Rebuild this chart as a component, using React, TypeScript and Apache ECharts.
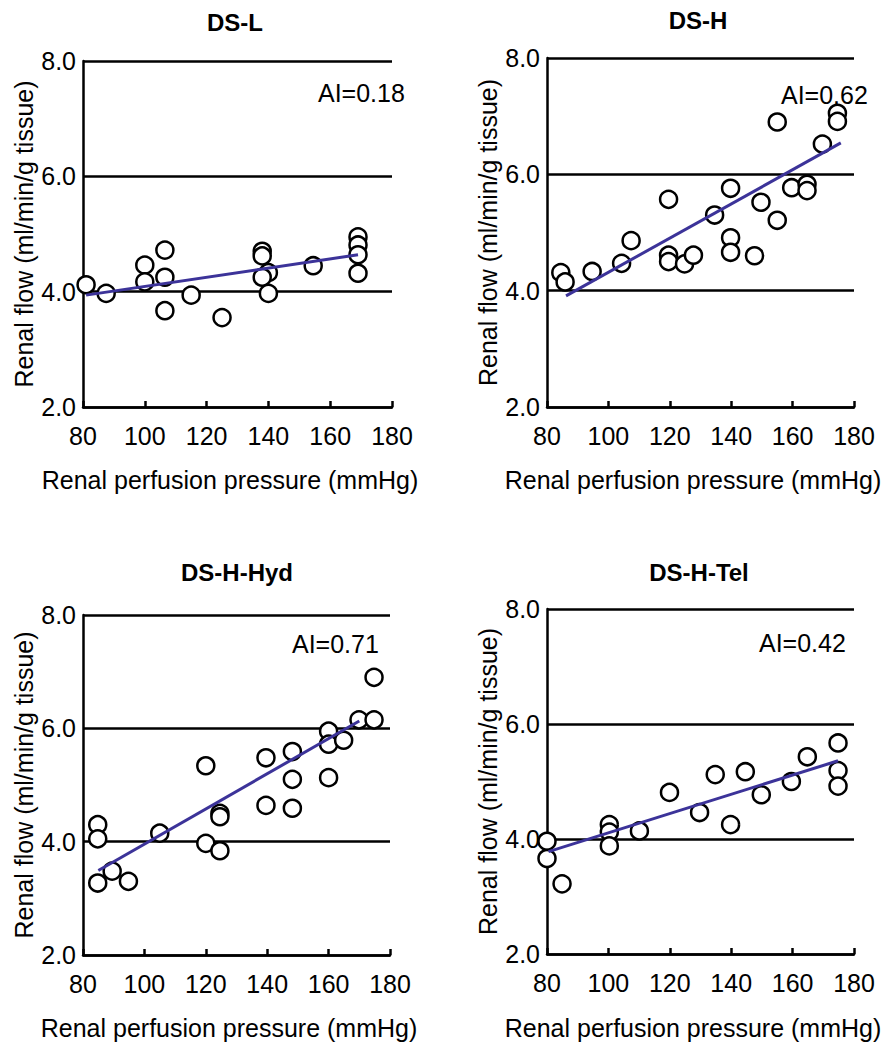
import React, { useEffect, useRef } from "react";
import * as echarts from "echarts";

// ---- Data ----
const panelTitles = ["DS-L", "DS-H", "DS-H-Hyd", "DS-H-Tel"];
const aiLabels = ["AI=0.18", "AI=0.62", "AI=0.71", "AI=0.42"];
const xAxisName = "Renal perfusion pressure (mmHg)";
const yAxisName = "Renal flow (ml/min/g tissue)";

const dsLPoints = [
  [81, 4.12], [87.5, 3.97], [100, 4.46], [100, 4.17], [106.5, 4.72], [106.5, 4.25], [106.5, 3.67],
  [115, 3.94], [125, 3.55], [138, 4.7], [138, 4.62], [140, 4.33], [138, 4.25], [140, 3.97],
  [154.5, 4.45], [169, 4.95], [169, 4.81], [169, 4.64], [169, 4.32],
];
const dsLFit = [[81, 3.94], [169, 4.64]];

const dsHPoints = [
  [84.5, 4.31], [85.9, 4.15], [94.7, 4.33], [104.3, 4.47], [107.4, 4.86], [119.6, 5.57], [119.6, 4.61],
  [119.6, 4.5], [124.8, 4.46], [127.7, 4.61], [134.6, 5.3], [139.8, 5.76], [139.8, 4.91], [139.8, 4.66],
  [147.6, 4.6], [149.7, 5.52], [155, 6.9], [155, 5.21], [159.7, 5.77], [164.7, 5.83], [164.7, 5.72],
  [169.7, 6.52], [174.6, 7.05], [174.6, 6.91],
];
const dsHFit = [[86.2, 3.91], [175.7, 6.54]];

const dsHHydPoints = [
  [84.8, 4.3], [84.8, 4.05], [84.8, 3.27], [89.5, 3.48], [94.8, 3.3], [105, 4.15], [120, 5.34],
  [120, 3.97], [124.6, 4.5], [124.6, 4.44], [124.6, 3.84], [139.6, 5.48], [139.6, 4.64], [148.2, 5.59],
  [148.2, 5.1], [148.2, 4.59], [160, 5.95], [160, 5.72], [160, 5.13], [164.9, 5.79], [169.9, 6.15],
  [174.8, 6.15], [174.8, 6.9],
];
const dsHHydFit = [[85, 3.49], [170, 6.13]];

const dsHTelPoints = [
  [80, 3.96], [80, 3.66], [84.9, 3.22], [100.3, 4.25], [100.3, 4.12], [100.3, 3.88], [110.1, 4.14],
  [119.9, 4.81], [129.7, 4.46], [134.8, 5.12], [139.8, 4.25], [144.6, 5.17], [149.8, 4.77],
  [159.6, 5.0], [164.8, 5.43], [174.8, 5.67], [174.8, 5.19], [174.8, 4.92],
];
const dsHTelFit = [[80.5, 3.78], [174.8, 5.36]];

const xMin = 80, xMax = 180, xStep = 20;
const yMin = 2, yMax = 8, yStep = 2;

const allPoints = [dsLPoints, dsHPoints, dsHHydPoints, dsHTelPoints];
const allFits = [dsLFit, dsHFit, dsHHydFit, dsHTelFit];

// ---- Layout ----
const grids = [
  { left: 83, top: 61, width: 309, height: 346 },
  { left: 547, top: 58, width: 307, height: 349 },
  { left: 83, top: 615, width: 307, height: 340 },
  { left: 547, top: 609, width: 307, height: 345 },
];
const titlePos = [[235, 22], [698, 20], [237, 572], [699, 572]];
const aiPos = [[318, 93], [781, 95], [292, 644], [759, 643]];
const xNamePos = [[230, 480], [693, 480], [229, 1028], [693, 1028]];

const FONT = "'Liberation Sans', Arial, Helvetica, sans-serif";
const FIT_COLOR = "#3c3399";

export default function App() {
  const ref = useRef<HTMLDivElement>(null);
  useEffect(() => {
    document.body.style.margin = "0";
    if (!ref.current) return;
    const chart = echarts.init(ref.current, undefined, { renderer: "svg" });
    const xAxes: any[] = [];
    const yAxes: any[] = [];
    const series: any[] = [];
    const graphic: any[] = [];
    grids.forEach((g, i) => {
      xAxes.push({
        gridIndex: i,
        type: "value",
        min: xMin,
        max: xMax,
        interval: xStep,
        axisLine: { show: true, lineStyle: { color: "#000", width: 2.5 } },
        axisTick: { show: true, inside: true, length: 6, lineStyle: { color: "#000", width: 2.5 } },
        axisLabel: { color: "#000", fontSize: 25, fontFamily: FONT, margin: 16 },
        splitLine: { show: false },
      });
      yAxes.push({
        gridIndex: i,
        type: "value",
        min: yMin,
        max: yMax,
        interval: yStep,
        name: yAxisName,
        nameLocation: "middle",
        nameGap: 47,
        nameTextStyle: { color: "#000", fontSize: 25, fontFamily: FONT },
        axisLine: { show: true, lineStyle: { color: "#000", width: 2.5 } },
        axisTick: { show: false },
        axisLabel: {
          color: "#000",
          fontSize: 25,
          fontFamily: FONT,
          margin: 7,
          formatter: (v: number) => v.toFixed(1),
        },
        splitLine: { show: true, lineStyle: { color: "#000", width: 2.5 } },
      });
      series.push({
        type: "scatter",
        xAxisIndex: i,
        yAxisIndex: i,
        data: allPoints[i],
        symbol: "circle",
        symbolSize: 17,
        itemStyle: { color: "#fff", borderColor: "#000", borderWidth: 2.5, opacity: 1 },
        z: 3,
      });
      series.push({
        type: "line",
        xAxisIndex: i,
        yAxisIndex: i,
        data: allFits[i],
        symbol: "none",
        lineStyle: { color: FIT_COLOR, width: 3 },
        z: 4,
      });
      graphic.push({
        type: "text",
        x: titlePos[i][0],
        y: titlePos[i][1],
        style: {
          text: panelTitles[i],
          fill: "#000",
          font: `bold 24px ${FONT}`,
          align: "center",
          verticalAlign: "middle",
        },
      });
      graphic.push({
        type: "text",
        x: aiPos[i][0],
        y: aiPos[i][1],
        style: {
          text: aiLabels[i],
          fill: "#000",
          font: `25px ${FONT}`,
          align: "left",
          verticalAlign: "middle",
        },
      });
      graphic.push({
        type: "text",
        x: xNamePos[i][0],
        y: xNamePos[i][1],
        style: {
          text: xAxisName,
          fill: "#000",
          font: `25px ${FONT}`,
          align: "center",
          verticalAlign: "middle",
        },
      });
    });
    chart.setOption({
      animation: false,
      backgroundColor: "#fff",
      grid: grids.map((g) => ({ ...g, containLabel: false, outerBoundsMode: "none" })),
      xAxis: xAxes,
      yAxis: yAxes,
      series,
      graphic,
    });
    return () => chart.dispose();
  }, []);
  return <div ref={ref} style={{ width: 882, height: 1046 }} />;
}
